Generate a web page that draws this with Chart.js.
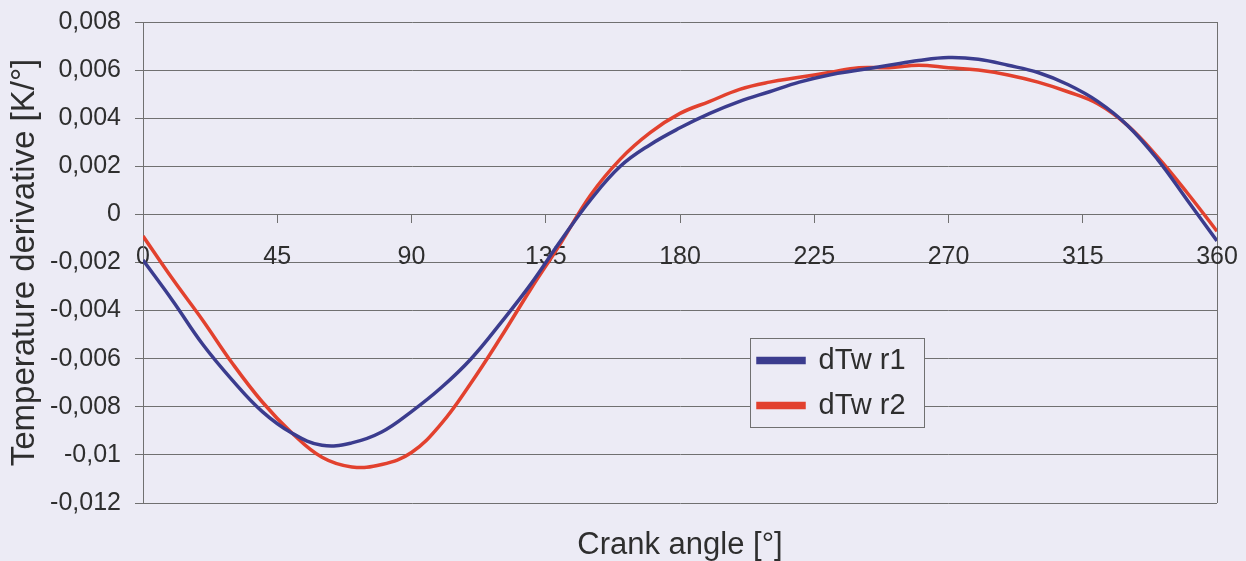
<!DOCTYPE html>
<html>
<head>
<meta charset="utf-8">
<title>Temperature derivative vs crank angle</title>
<script src="https://cdn.jsdelivr.net/npm/chart.js@4.4.1/dist/chart.umd.min.js"></script>
<style>
    html, body { margin: 0; padding: 0; background: #ecebf5; }
    #wrap { position: relative; width: 1246px; height: 561px; }
</style>
</head>
<body>
<div id="wrap"><canvas id="dtwChart" width="1246" height="561"></canvas></div>
<script>
// ── Data ────────────────────────────────────────────────────────────

const crankAngles = [0, 10, 20, 30, 40, 50, 60, 70, 80, 90, 100, 110, 120,
                     130, 140, 150, 160, 170, 180, 190, 200, 210, 220, 230, 240,
                     250, 260, 270, 280, 290, 300, 310, 320, 330, 340, 350, 360];

const dTwR1 = [-0.0019, -0.0036, -0.0054, -0.0069, -0.0082, -0.0091, -0.0096,
               -0.0095, -0.00905, -0.0082, -0.0072, -0.0060, -0.0045, -0.0029,
               -0.0011, 0.0006, 0.0020, 0.0029, 0.0036, 0.0042, 0.0047, 0.0051,
               0.0055, 0.0058, 0.0060, 0.0062, 0.0064, 0.00652, 0.00645, 0.0062,
               0.0059, 0.0054, 0.0047, 0.0037, 0.0023, 0.0006, -0.0011];

const dTwR2 = [-0.0009, -0.0027, -0.0044, -0.0062, -0.0078, -0.0091, -0.0101,
               -0.0105, -0.0104, -0.0099, -0.0087, -0.0070, -0.0051, -0.0031,
               -0.0012, 0.0008, 0.0023, 0.0034, 0.0042, 0.0047, 0.0052, 0.0055,
               0.0057, 0.0059, 0.0061, 0.0061, 0.0062, 0.0061, 0.0060, 0.0058,
               0.0055, 0.0051, 0.0046, 0.0037, 0.0024, 0.0009, -0.0007];

const xTickValues = [0, 45, 90, 135, 180, 225, 270, 315, 360];
const yTickValues = [-0.012, -0.010, -0.008, -0.006, -0.004, -0.002, 0,
                     0.002, 0.004, 0.006, 0.008];

const seriesNames  = ['dTw r1', 'dTw r2'];
const seriesColors = ['#3b3c8e', '#e2412e'];

// ── Helpers ─────────────────────────────────────────────────────────

const GRID = '#707070';
const TEXT = '#2e2e2e';
const BG   = '#ecebf5';
const FONT = '"Liberation Sans", Arial, sans-serif';

// Excel-style "general" number with comma decimals: 0,008 / -0,01 / 0
function fmtComma(v) {
    return String(Number(v.toFixed(3))).replace('.', ',');
}

function toPoints(xs, ys) {
    return xs.map((x, i) => ({ x: x, y: ys[i] }));
}

// tick padding is only wanted for label placement, not for the layout
function noEdgePadding(scale) {
    scale.paddingTop = 0;
    scale.paddingBottom = 0;
    scale.paddingLeft = 0;
    scale.paddingRight = 0;
}

// Legend sits inside the plot with its own framed box
const legendFrame = { left: 750, top: 338, width: 174, height: 89 };

const legendMover = {
    id: 'legendMover',
    afterLayout(chart) {
        const lg = chart.legend;
        if (!lg) return;
        lg.left   = legendFrame.left - 8;
        lg.top    = legendFrame.top - 8;
        lg.right  = legendFrame.left + legendFrame.width;
        lg.bottom = legendFrame.top + legendFrame.height + 20;
        lg.width  = lg.right - lg.left;
        lg.height = lg.bottom - lg.top;
    },
    afterDraw(chart) {
        const ctx = chart.ctx;
        ctx.save();
        ctx.fillStyle = BG;
        ctx.strokeStyle = GRID;
        ctx.lineWidth = 1;
        ctx.fillRect(legendFrame.left, legendFrame.top, legendFrame.width, legendFrame.height);
        ctx.strokeRect(legendFrame.left + 0.5, legendFrame.top + 0.5,
                       legendFrame.width, legendFrame.height);
        ctx.restore();
        // draw the legend again on top of its frame
        chart.legend.draw();
    }
};

// ── Chart ───────────────────────────────────────────────────────────

const ctx = document.getElementById('dtwChart');

new Chart(ctx, {
    type: 'line',
    data: {
        datasets: [
            {
                label: seriesNames[0],
                data: toPoints(crankAngles, dTwR1),
                borderColor: seriesColors[0],
                backgroundColor: seriesColors[0],
                borderWidth: 3.5,
                pointRadius: 0,
                tension: 0.4,
                xAxisID: 'x',
                yAxisID: 'y'
            },
            {
                label: seriesNames[1],
                data: toPoints(crankAngles, dTwR2),
                borderColor: seriesColors[1],
                backgroundColor: seriesColors[1],
                borderWidth: 3.5,
                pointRadius: 0,
                tension: 0.4,
                xAxisID: 'x',
                yAxisID: 'y'
            }
        ]
    },
    options: {
        responsive: false,
        animation: false,
        layout: { padding: { top: 22, right: 29, bottom: 0, left: 0 } },
        plugins: {
            legend: {
                position: 'chartArea',
                align: 'start',
                labels: {
                    boxWidth: 46,
                    boxHeight: 4,
                    padding: 16,
                    color: TEXT,
                    font: { family: FONT, size: 29, lineHeight: 1 }
                }
            },
            tooltip: { enabled: false }
        },
        scales: {
            x: {
                type: 'linear',
                position: { y: 0 },
                min: 0,
                max: 360,
                afterBuildTicks: scale => { scale.ticks = xTickValues.map(v => ({ value: v })); },
                afterFit: noEdgePadding,
                ticks: {
                    color: TEXT,
                    padding: 20,
                    maxRotation: 0,
                    font: { family: FONT, size: 25 },
                    callback: v => String(v)
                },
                grid: {
                    color: c => (c.tick && c.tick.value === 360) ? GRID : 'rgba(0,0,0,0)',
                    tickColor: GRID,
                    tickLength: 8,
                    lineWidth: 1
                },
                border: { display: true, color: GRID }
            },
            xTitle: {
                type: 'linear',
                position: 'bottom',
                min: 0,
                max: 360,
                ticks: { display: false },
                grid: { display: false },
                border: { display: false },
                afterFit: scale => { noEdgePadding(scale); scale.height = 58; },
                title: {
                    display: true,
                    text: 'Crank angle [°]',
                    color: TEXT,
                    padding: { top: 0, bottom: 0 },
                    font: { family: FONT, size: 31, lineHeight: 1 }
                }
            },
            y: {
                type: 'linear',
                position: 'left',
                min: -0.012,
                max: 0.008,
                afterBuildTicks: scale => { scale.ticks = yTickValues.map(v => ({ value: v })); },
                afterFit: scale => { noEdgePadding(scale); scale.width = 143; },
                ticks: {
                    color: TEXT,
                    padding: 14,
                    font: { family: FONT, size: 25 },
                    callback: v => fmtComma(v)
                },
                grid: { color: GRID, tickLength: 8, lineWidth: 1 },
                border: { display: true, color: GRID },
                title: {
                    display: true,
                    text: 'Temperature derivative [K/°]',
                    color: TEXT,
                    padding: { top: 5, bottom: 0 },
                    font: { family: FONT, size: 33 }
                }
            }
        }
    },
    plugins: [legendMover]
});
</script>
</body>
</html>
